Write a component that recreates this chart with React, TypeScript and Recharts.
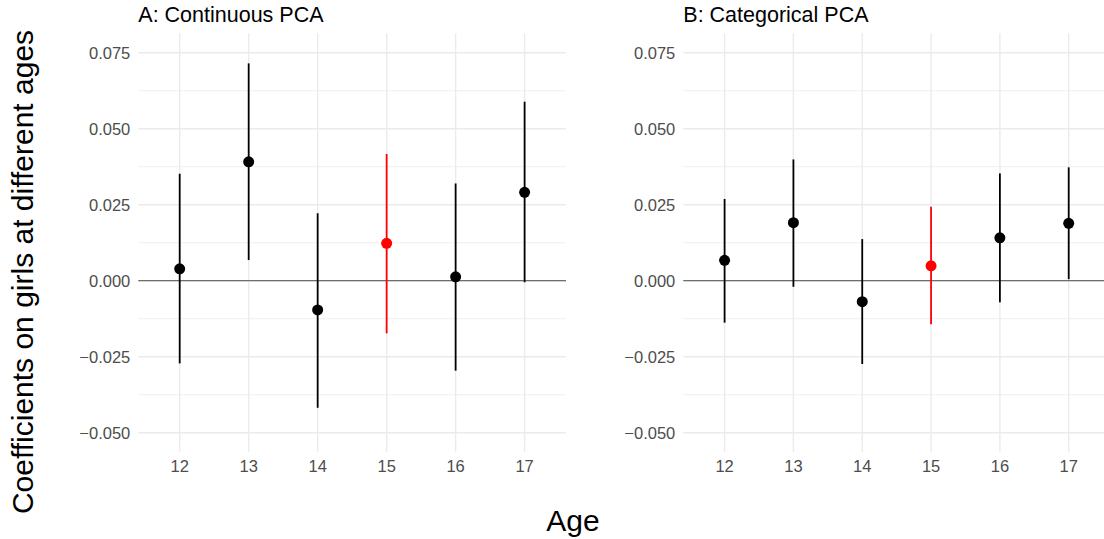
import { ComposedChart, Scatter, ErrorBar, XAxis, YAxis, ReferenceLine } from 'recharts';

const ages = [12, 13, 14, 15, 16, 17];
const highlightAge = 15;

const contEst = [0.0039, 0.0391, -0.0096, 0.0123, 0.0013, 0.0291];
const contLo = [-0.0272, 0.0068, -0.0418, -0.0173, -0.0296, -0.0005];
const contHi = [0.0352, 0.0715, 0.0222, 0.0417, 0.032, 0.0589];

const catEst = [0.0067, 0.0191, -0.0069, 0.0049, 0.0141, 0.0189];
const catLo = [-0.0138, -0.002, -0.0274, -0.0143, -0.0071, 0.0005];
const catHi = [0.0269, 0.0399, 0.0137, 0.0243, 0.0353, 0.0373];

const yTicks = [-0.05, -0.025, 0, 0.025, 0.05, 0.075];
const yMinor = [-0.0375, -0.0125, 0.0125, 0.0375, 0.0625];
const yDomain = [-0.05625, 0.0814];
const xDomain = [11.4, 17.6];

const FONT = '"Liberation Sans", Arial, Helvetica, sans-serif';
const GRID = '#EBEBEB';

function buildRows(est: number[], lo: number[], hi: number[]) {
  return ages.map((age, i) => ({
    age,
    est: est[i],
    err: [est[i] - lo[i], hi[i] - est[i]],
  }));
}

function fmt(v: number) {
  const s = Math.abs(v).toFixed(3);
  return v < 0 ? '\u2212' + s : s;
}

function dot(color: string) {
  return (p: any) => <circle cx={p.cx} cy={p.cy} r={5.5} fill={color} />;
}

function Panel({ rows, left, marginLeft }: { rows: any[]; left: number; marginLeft: number }) {
  const normal = rows.filter((r) => r.age !== highlightAge);
  const hot = rows.filter((r) => r.age === highlightAge);
  return (
    <div style={{ position: 'absolute', left, top: 0 }}>
      <ComposedChart
        width={600}
        height={539}
        margin={{ top: 33.3, right: 34, bottom: 57.3, left: marginLeft }}
      >
        {yMinor.map((v) => (
          <ReferenceLine key={'m' + v} y={v} stroke={GRID} strokeWidth={0.8} />
        ))}
        {yTicks.map((v) => (
          <ReferenceLine key={'y' + v} y={v} stroke={GRID} strokeWidth={1.4} />
        ))}
        {ages.map((a) => (
          <ReferenceLine key={'x' + a} x={a} stroke={GRID} strokeWidth={1.4} />
        ))}
        <ReferenceLine y={0} stroke="#6E6E6E" strokeWidth={1.2} />
        <XAxis
          type="number"
          dataKey="age"
          domain={xDomain}
          ticks={ages}
          allowDataOverflow
          axisLine={false}
          tickLine={false}
          tickSize={0}
          tickMargin={9}
          height={30}
          tick={{ fill: '#4D4D4D', fontSize: 16.5, fontFamily: FONT }}
        />
        <YAxis
          type="number"
          dataKey="est"
          domain={yDomain}
          ticks={yTicks}
          allowDataOverflow
          axisLine={false}
          tickLine={false}
          tickSize={0}
          tickMargin={8}
          width={138}
          tickFormatter={fmt}
          tick={{ fill: '#4D4D4D', fontSize: 16.5, fontFamily: FONT }}
        />
        <Scatter data={normal} dataKey="est" isAnimationActive={false} shape={dot('#000000')}>
          <ErrorBar dataKey="err" direction="y" width={0} stroke="#000000" strokeWidth={1.8} isAnimationActive={false} />
        </Scatter>
        <Scatter data={hot} dataKey="est" isAnimationActive={false} shape={dot('#FF0000')}>
          <ErrorBar dataKey="err" direction="y" width={0} stroke="#FF0000" strokeWidth={1.8} isAnimationActive={false} />
        </Scatter>
      </ComposedChart>
    </div>
  );
}

export default function App() {
  const contRows = buildRows(contEst, contLo, contHi);
  const catRows = buildRows(catEst, catLo, catHi);
  return (
    <div
      style={{
        position: 'absolute',
        left: 0,
        top: 0,
        width: 1104,
        height: 539,
        overflow: 'hidden',
        background: '#fff',
      }}
    >
      <Panel rows={contRows} left={0} marginLeft={0.3} />
      <Panel rows={catRows} left={544} marginLeft={1.3} />
      <svg
        width={1104}
        height={539}
        style={{ position: 'absolute', left: 0, top: 0, pointerEvents: 'none' }}
        fontFamily={FONT}
      >
        <text x={138.3} y={21.7} fontSize={21.5} fill="#000">
          A: Continuous PCA
        </text>
        <text x={683.3} y={21.7} fontSize={21.5} fill="#000">
          B: Categorical PCA
        </text>
        <text x={573} y={530.7} fontSize={30} textAnchor="middle" fill="#000">
          Age
        </text>
        <text
          transform="rotate(-90)"
          x={-272}
          y={33.3}
          fontSize={30}
          textAnchor="middle"
          fill="#000"
        >
          Coefficients on girls at different ages
        </text>
      </svg>
    </div>
  );
}
